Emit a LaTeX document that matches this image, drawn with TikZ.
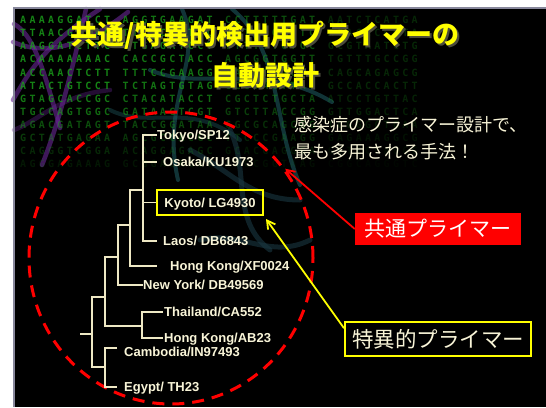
\documentclass[tikz,border=0pt]{standalone}
\usepackage{fontspec}
\setmainfont{Liberation Sans}
\newfontfamily\jp{Noto Sans CJK JP}
\newfontfamily\dna{DejaVu Sans Mono}[LetterSpace=33]
\usetikzlibrary{arrows.meta,calc,shapes.geometric}
\definecolor{cream}{RGB}{248,244,215}
\definecolor{treeline}{RGB}{238,232,196}
\definecolor{dnagreen}{RGB}{25,155,25}
\definecolor{ttlyellow}{RGB}{255,255,0}
\definecolor{shadowgray}{RGB}{75,75,60}
\definecolor{slideborder}{RGB}{135,135,155}
\definecolor{helixpurple}{RGB}{105,40,150}
\definecolor{helixteal}{RGB}{35,105,110}
\definecolor{helixdark}{RGB}{25,55,65}
\definecolor{pred}{RGB}{255,0,0}
\tikzset{
  dnarow/.style={anchor=base west, inner sep=0, font=\dna\bfseries\fontsize{10}{10}\selectfont, text=dnagreen},
  ttl/.style={font=\jp\bfseries\fontsize{27}{27}\selectfont, inner sep=0},
  subline/.style={font=\jp\fontsize{18}{18}\selectfont, text=cream, anchor=west, inner sep=0},
  tl/.style={draw=treeline, line width=1.8, line join=miter},
  lbl/.style={anchor=west, inner sep=0, text=cream, text height=9.3pt, text depth=0pt, font=\bfseries\fontsize{13}{13}\selectfont},
  helixp/.style={draw=helixpurple, line width=4.5, opacity=0.6, line cap=round},
  helixt/.style={draw=helixteal, line width=4, opacity=0.5, line cap=round},
  helixd/.style={draw=helixdark, line width=5, opacity=0.6, line cap=round},
  callout/.style={line width=1.8, -{Straight Barb[length=8pt,width=9pt]}},
}
\begin{document}
\begin{tikzpicture}[x=1pt,y=-1pt]
\useasboundingbox (0,0) rectangle (546,407);
\fill[white] (0,0) rectangle (546,407);
\fill[black] (13,7) rectangle (546,407);

% background helix strands
\draw[helixp] (13,100) .. controls (30,70) and (45,45) .. (100,9);
\draw[helixp] (13,42) .. controls (50,58) and (90,42) .. (128,12);
\draw[helixp] (42,165) .. controls (60,120) and (72,70) .. (86,9);
\draw[helixp] (14,24) .. controls (32,34) and (42,62) .. (60,128);
\draw[helixp, opacity=0.35] (14,130) .. controls (40,120) and (60,95) .. (110,90);
\draw[helixt] (182,9) .. controls (205,60) and (160,100) .. (178,180);
\draw[helixt] (232,9) .. controls (282,50) and (272,120) .. (300,185);
\draw[helixt] (150,70) .. controls (200,92) and (262,60) .. (332,102);
\draw[helixt, opacity=0.35] (110,110) .. controls (150,130) and (190,100) .. (240,140);
\draw[helixd] (190,150) .. controls (230,170) and (250,200) .. (300,200);
\draw[helixd] (230,130) .. controls (250,170) and (230,220) .. (270,250);
\draw[helixd] (200,240) .. controls (240,230) and (270,260) .. (310,240);

% DNA letters
\foreach \yy/\ga/\gb/\gc/\gd/\op [count=\i] in {
  23.6/AAAAGGATCT/AGGTGAAGAT/CCTTTTTGAT/AATCTCATGA/1,
  36.7/TTAACGTGAG/TTTTCGTTCC/ACTGAGCGTC/AGACCCCGTA/1,
  49.8/AAGGATCTTC/TTGAGATCCT/TTTTTTCTGC/GCGTAATCTG/1,
  62.9/ACAAAAAAAC/CACCGCTACC/AGCGGTGGTT/TGTTTGCCGG/1,
  76.0/ACCAACTCTT/TTTCCGAAGG/TAACTGGCTT/CAGCAGAGCG/1,
  89.1/ATACTGTCCT/TCTAGTGTAG/CCGTAGTTAG/GCCACCACTT/1,
  102.2/GTAGCACCGC/CTACATACCT/CGCTCTGCTA/ATCCTGTTAC/0.9,
  115.3/TGCCAGTGGC/GATAAGTCGT/GTCTTACCGG/GTTGGACTCA/0.8,
  128.4/AGACGATAGT/TACCGGATAA/GGCGCAGCGG/TCGGGCTGAA/0.6,
  141.5/GCTATGAGAA/AGCGCCACGC/TTCCCGAAGG/GAGAAAGGCG/0.45,
  154.6/CAGGGTCGGA/ACAGGAGAGC/GCACGAGGGA/GCTTCCAGGG/0.3,
  167.7/AGGGAGAAAG/GCGGACAGGT/ATCCGGTAAG/CGGCAGGGTC/0.18} {
  \pgfmathsetmacro\oa{0.85*\op}
  \pgfmathsetmacro\ob{0.75*\op}
  \pgfmathsetmacro\oc{0.5*\op}
  \pgfmathsetmacro\od{0.25*\op}
  \node[dnarow, opacity=\oa] (dna\i a) at (20,\yy) {\ga};
  \node[dnarow, opacity=\ob] (dna\i b) at (122.5,\yy) {\gb};
  \node[dnarow, opacity=\oc] (dna\i c) at (225,\yy) {\gc};
  \node[dnarow, opacity=\od] (dna\i d) at (327.6,\yy) {\gd};
}

% slide border
\draw[slideborder, line width=1.5] (13.75,407) -- (13.75,7.75) -- (546,7.75);

% title
\node[ttl, text=shadowgray] (title1s) at (267.5,37.5) {共通/特異的検出用プライマーの};
\node[ttl, text=ttlyellow] (title1) at (265,35) {共通/特異的検出用プライマーの};
\node[ttl, text=shadowgray] (title2s) at (267.5,77.5) {自動設計};
\node[ttl, text=ttlyellow] (title2) at (265,75) {自動設計};

% subtitle
\node[subline] (sub1) at (294,125) {感染症のプライマー設計で、};
\node[subline] (sub2) at (294,152) {最も多用される手法！};

% dashed ring
\node[draw=pred, line width=3, dash pattern=on 12pt off 8pt, ellipse, inner sep=0,
      minimum width=284, minimum height=292] (ring) at (171,258) {};

% tree labels
\node[lbl] (tokyo) at (157,135) {Tokyo/SP12};
\node[lbl] (osaka) at (163,162) {Osaka/KU1973};
\node[draw=ttlyellow, line width=2, inner sep=0, minimum width=106, minimum height=25,
      text=cream, text height=9.3pt, text depth=0pt, font=\bfseries\fontsize{13}{13}\selectfont] (kyoto) at (210,202.5) {Kyoto/ LG4930};
\node[lbl] (laos) at (163,241) {Laos/ DB6843};
\node[lbl] (hkxf) at (170,266) {Hong Kong/XF0024};
\node[lbl] (ny) at (143,285) {New York/ DB49569};
\node[lbl] (thai) at (164,312) {Thailand/CA552};
\node[lbl] (hkab) at (164,338) {Hong Kong/AB23};
\node[lbl] (camb) at (124,352) {Cambodia/IN97493};
\node[lbl] (egypt) at (124,387) {Egypt/ TH23};

% tree junctions
\coordinate (nA) at (143,190);
\coordinate (nB) at (130,225);
\coordinate (nC) at (118,257);
\coordinate (nD) at (105,297);
\coordinate (nE) at (142,326);
\coordinate (nF) at (105,367);
\coordinate (root) at (92,334);
\coordinate (rootstub) at (80,334);
\coordinate (cambln) at ([xshift=-7pt,yshift=4pt]camb.west);

% tree edges
\draw[tl] (tokyo.west) -- (nA |- tokyo.west) -- (nA |- laos.west) -- ([xshift=-6pt]laos.west);
\draw[tl] (nA |- osaka.west) -- ([xshift=-6pt]osaka.west);
\draw[tl] (nA |- kyoto.west) -- (kyoto.west);
\draw[tl] (nA) -- (nB |- nA) -- (nB |- hkxf.west) -- ([xshift=-13pt]hkxf.west);
\draw[tl] (nB) -- (nC |- nB) -- (nC |- ny.west) -- (ny.west);
\draw[tl] (nC) -- (nD |- nC) -- (nD |- nE) -- (nE);
\draw[tl] ([xshift=-1pt]thai.west) -- (nE |- thai.west) -- (nE |- hkab.west) -- ([xshift=-1pt]hkab.west);
\draw[tl] (nD) -- (root |- nD) -- (root |- nF) -- (nF);
\draw[tl] (cambln) -- (nF |- cambln) -- (nF |- egypt.west) -- ([xshift=-7pt]egypt.west);
\draw[tl] (rootstub) -- (root);

% callout boxes
\node[fill=pred, minimum width=166, minimum height=32, inner sep=0,
      font=\jp\fontsize{21}{21}\selectfont, text=white] (common) at (438,229) {共通プライマー};
\node[draw=ttlyellow, line width=2, fill=black, minimum width=186, minimum height=34, inner sep=0,
      font=\jp\fontsize{21.5}{21.5}\selectfont, text=cream] (specific) at (438,339) {特異的プライマー};

% callout arrows
\draw[callout, pred] (common.west) -- (ring.38);
\draw[callout, ttlyellow] ($(specific.north west)!0.2!(specific.south west)$) -- ([shift={(2,3)}]kyoto.south east);
\end{tikzpicture}
\end{document}
